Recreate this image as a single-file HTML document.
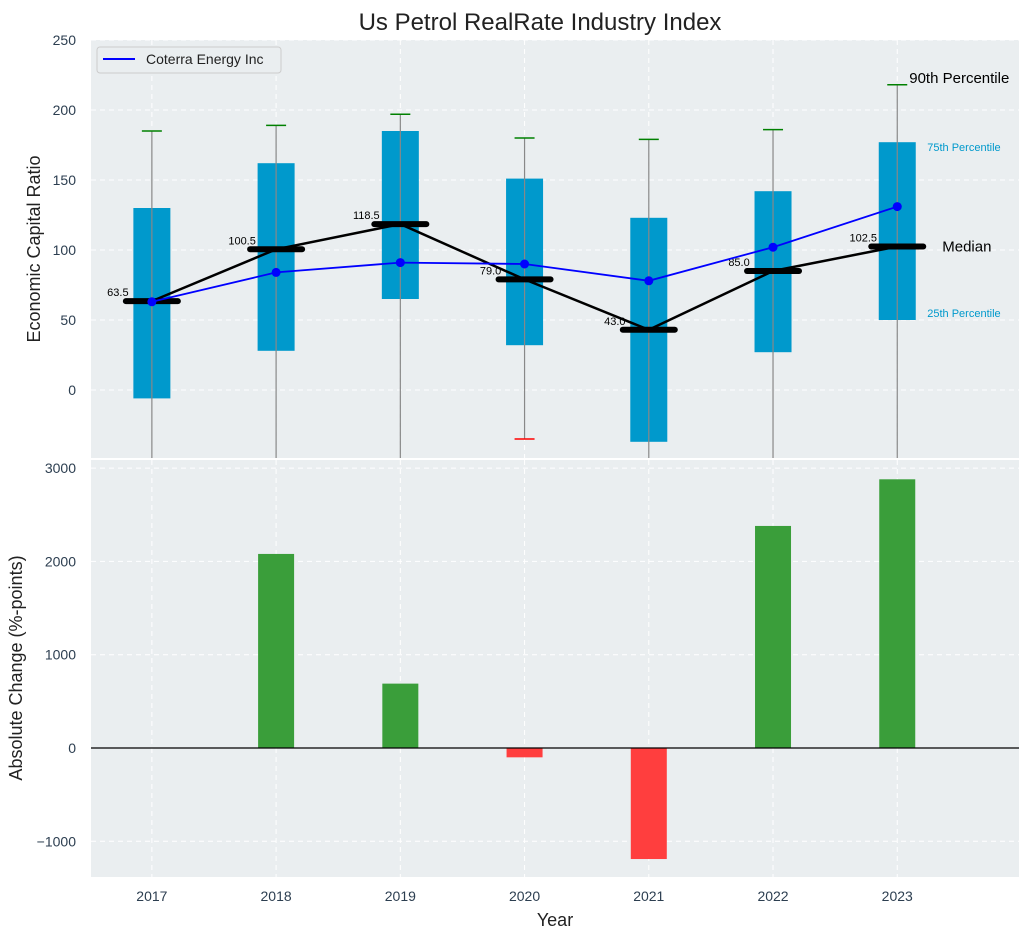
<!DOCTYPE html>
<html><head><meta charset="utf-8"><style>
html,body{margin:0;padding:0;background:#fff;}
svg{display:block;font-family:"Liberation Sans","DejaVu Sans",sans-serif;}
</style></head><body>
<svg id="c" width="1030" height="940"></svg>
<script>
const years=[2017,2018,2019,2020,2021,2022,2023];
const q1=[-6,28,65,32,-37,27,50];
const q3=[130,162,185,151,123,142,177];
const whiskerHigh=[185,189,197,180,179,186,218];
const whiskerLow=[-60,-60,-60,-35,-60,-60,-60];
const medians=[63.5,100.5,118.5,79.0,43.0,85.0,102.5];
const companyValues=[63,84,91,90,78,102,131];
const changes=[0,2080,690,-100,-1190,2380,2880];
const topTicks=[0,50,100,150,200,250];
const botTicks=[-1000,0,1000,2000,3000];

const NS="http://www.w3.org/2000/svg";
const svg=document.getElementById('c');
function mk(tag,attrs,parent,name,inter){const e=document.createElementNS(NS,tag);for(const k in attrs)e.setAttribute(k,attrs[k]);


(parent||svg).appendChild(e);return e;}
const TC='#2c3e50';
const L=91,R=1019;
const x=v=>L+(v-2016.51)/(2023.98-2016.51)*(R-L);
const T0=40,T1=458,yT=v=>390-v*1.4;
const B0=460,B1=877,yB=v=>748-v*0.0933;
const clipTop=mk('clipPath',{id:'ct'},svg,'clip-top');
mk('rect',{x:L,y:T0,width:R-L,height:T1-T0},clipTop,'clip-rect');
mk('text',{x:540,y:30,'text-anchor':'middle','font-size':24,fill:'#222'},svg,'chart-title').textContent='Us Petrol RealRate Industry Index';
mk('rect',{x:L,y:T0,width:R-L,height:T1-T0,fill:'#eaeef0'},svg,'top-panel-bg');
mk('rect',{x:L,y:B0,width:R-L,height:B1-B0,fill:'#eaeef0'},svg,'bottom-panel-bg');
years.forEach(yr=>{
 mk('line',{x1:x(yr),x2:x(yr),y1:T0,y2:T1,stroke:'#fff','stroke-dasharray':'5,4','stroke-width':1},svg,'top-grid-x');
 mk('line',{x1:x(yr),x2:x(yr),y1:B0,y2:B1,stroke:'#fff','stroke-dasharray':'5,4','stroke-width':1},svg,'bottom-grid-x');
 mk('text',{x:x(yr),y:901,'text-anchor':'middle','font-size':14,fill:TC},svg,'x-tick-label').textContent=yr;
});
topTicks.forEach(t=>{
 mk('line',{x1:L,x2:R,y1:yT(t),y2:yT(t),stroke:'#fff','stroke-dasharray':'5,4'},svg,'top-grid-y');
 mk('text',{x:76,y:yT(t)+5,'text-anchor':'end','font-size':14,fill:TC},svg,'top-y-tick').textContent=t;
});
botTicks.forEach(t=>{
 mk('line',{x1:L,x2:R,y1:yB(t),y2:yB(t),stroke:'#fff','stroke-dasharray':'5,4'},svg,'bottom-grid-y');
 mk('text',{x:76,y:yB(t)+5,'text-anchor':'end','font-size':14,fill:TC},svg,'bottom-y-tick').textContent=t<0?'\u2212'+(-t):t;
});
const g=mk('g',{'clip-path':'url(#ct)'},svg,'top-plot');
years.forEach((yr,i)=>{
 const cx=x(yr);
 mk('rect',{x:cx-18.5,y:yT(q3[i]),width:37,height:yT(q1[i])-yT(q3[i]),fill:'#0099cc'},g,'box-'+yr);
 mk('line',{x1:cx,x2:cx,y1:yT(whiskerHigh[i]),y2:yT(whiskerLow[i]),stroke:'#888','stroke-width':1.2},g,'whisker-'+yr);
 mk('line',{x1:cx-10,x2:cx+10,y1:yT(whiskerHigh[i]),y2:yT(whiskerHigh[i]),stroke:'green','stroke-width':1.5},g,'whisker-cap-high');
 if(whiskerLow[i]>-48) mk('line',{x1:cx-10,x2:cx+10,y1:yT(whiskerLow[i]),y2:yT(whiskerLow[i]),stroke:'red','stroke-width':1.5},g,'whisker-cap-low');
});
let pts=years.map((yr,i)=>x(yr)+','+yT(medians[i])).join(' ');
mk('polyline',{points:pts,fill:'none',stroke:'#000','stroke-width':2.5},g,'median-line');
years.forEach((yr,i)=>{
 mk('line',{x1:x(yr)-26,x2:x(yr)+26,y1:yT(medians[i]),y2:yT(medians[i]),stroke:'#000','stroke-width':6,'stroke-linecap':'round'},g,'median-bar');
 mk('text',{x:x(yr)-34,y:yT(medians[i])-5,'text-anchor':'middle','font-size':11,fill:'#000'},g,'median-label').textContent=medians[i].toFixed(1);
});
pts=years.map((yr,i)=>x(yr)+','+yT(companyValues[i])).join(' ');
mk('polyline',{points:pts,fill:'none',stroke:'blue','stroke-width':1.8},g,'company-line');
years.forEach((yr,i)=>mk('circle',{cx:x(yr),cy:yT(companyValues[i]),r:4.5,fill:'blue'},g,'company-point'));
const lx=x(2023);
mk('text',{x:lx+12,y:yT(whiskerHigh[6])-2,'font-size':15,fill:'#000'},svg,'p90-label').textContent='90th Percentile';
mk('text',{x:lx+30,y:yT(q3[6])+9,'font-size':11,fill:'#0099cc'},svg,'p75-label').textContent='75th Percentile';
mk('text',{x:lx+45,y:yT(medians[6])+5,'font-size':15,fill:'#000'},svg,'median-annot').textContent='Median';
mk('text',{x:lx+30,y:yT(q1[6])-3,'font-size':11,fill:'#0099cc'},svg,'p25-label').textContent='25th Percentile';
mk('rect',{x:97,y:47,width:184,height:26,rx:3,fill:'#eaeef0',stroke:'#ccc'},svg,'legend-box');
mk('line',{x1:103,x2:135,y1:59,y2:59,stroke:'blue','stroke-width':2},svg,'legend-swatch');
mk('text',{x:146,y:64,'font-size':14,fill:'#222'},svg,'legend-label').textContent='Coterra Energy Inc';
years.forEach((yr,i)=>{
 const v=changes[i];
 mk('rect',{x:x(yr)-18,y:Math.min(yB(v),yB(0)),width:36,height:Math.abs(yB(v)-yB(0)),fill:v>=0?'#3a9e3a':'#ff3e3e'},svg,'bar-'+yr);
});
mk('line',{x1:L,x2:R,y1:yB(0),y2:yB(0),stroke:'#000','stroke-width':1.2},svg,'zero-line');
mk('text',{x:40,y:249,'text-anchor':'middle','font-size':18,fill:'#222',transform:'rotate(-90 40 249)'},svg,'top-y-title').textContent='Economic Capital Ratio';
mk('text',{x:22,y:668,'text-anchor':'middle','font-size':18,fill:'#222',transform:'rotate(-90 22 668)'},svg,'bottom-y-title').textContent='Absolute Change (%-points)';
mk('text',{x:555,y:926,'text-anchor':'middle','font-size':18,fill:'#222'},svg,'x-axis-title').textContent='Year';
</script>
</body></html>
